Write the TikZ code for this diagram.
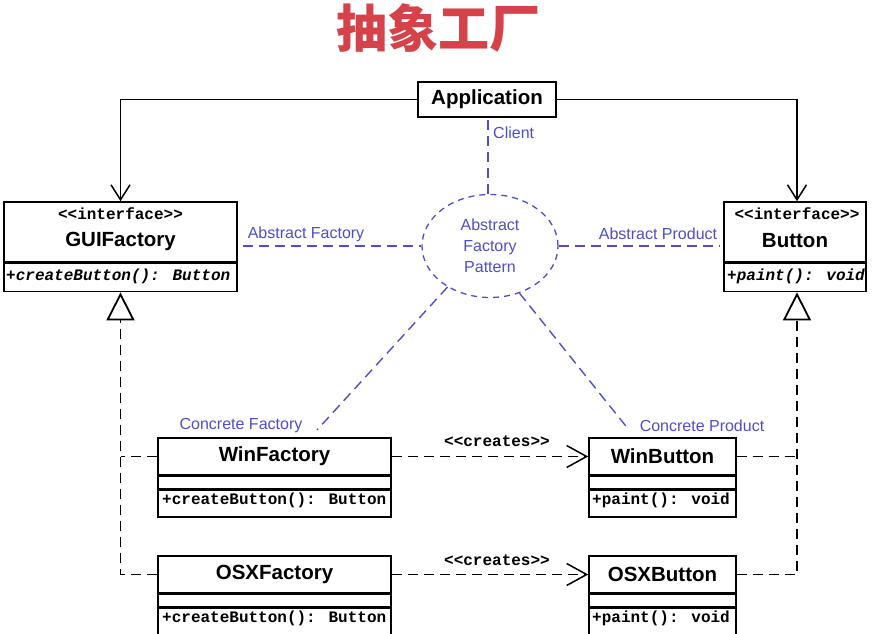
\documentclass[tikz,border=0pt]{standalone}
\usepackage{fontspec}
\setmainfont{Liberation Sans}
\newfontfamily\monof{Liberation Mono}
\newfontfamily\cjk{Noto Sans CJK SC}
\usetikzlibrary{arrows.meta,shapes.geometric}
\definecolor{titlered}{RGB}{214,66,74}
\definecolor{pblue}{RGB}{78,78,200}
\tikzset{
  cls/.style={draw=black, line width=1.6pt, inner sep=0pt, fill=white},
  cname/.style={font=\bfseries\fontsize{20.5}{22}\selectfont, inner sep=0pt},
  stereo/.style={font=\monof\bfseries\fontsize{16}{17}\selectfont, inner sep=0pt},
  meth/.style={font=\monof\bfseries\fontsize{16}{17}\selectfont, inner sep=0pt, anchor=west},
  imeth/.style={font=\monof\bfseries\itshape\fontsize{16}{17}\selectfont, inner sep=0pt, anchor=west},
  blab/.style={text=pblue, font=\fontsize{16}{20}\selectfont, inner sep=0pt},
  bline/.style={draw=pblue, line width=1.4pt, dash pattern=on 10pt off 6pt},
  kdash/.style={draw=black, line width=1.6pt, dash pattern=on 10pt off 6pt},
  assoc/.style={draw=black, line width=1.5pt, -{Straight Barb[length=15pt,width=19pt]}},
  creates/.style={kdash, -{Straight Barb[length=20pt,width=22pt,line width=1.5pt]}},
  realize/.style={kdash, -{Triangle[open,length=28pt,width=28pt,line width=1.8pt]}},
}
\begin{document}
\begin{tikzpicture}[x=1pt,y=-1pt]
\useasboundingbox (0,0) rectangle (875,634);
% title
\node[text=titlered, font=\cjk\bfseries\fontsize{51}{51}\selectfont, inner sep=0pt] (title) at (438,28) {抽象工厂};
% Application
\node[cls, minimum width=138pt, minimum height=35pt, font=\bfseries\fontsize{20.5}{22}\selectfont] (app) at (487,99.5) {Application};
% GUIFactory
\node[cls, minimum width=233pt, minimum height=60pt] (gui) at (120.5,232) {};
\node[cls, minimum width=233pt, minimum height=28pt, anchor=north] (guim) at (gui.south) {};
\node[stereo] (guis) at (120.5,214) {<<interface>>};
\node[cname] (guin) at (120.5,241) {GUIFactory};
\node[imeth] (guimt) at (6,276) {+createButton(): Button};
% Button
\node[cls, minimum width=142pt, minimum height=60pt] (btn) at (795,232) {};
\node[cls, minimum width=142pt, minimum height=28pt, anchor=north] (btnm) at (btn.south) {};
\node[stereo] (btns) at (797,214) {<<interface>>};
\node[cname] (btnn) at (795,241) {Button};
\node[imeth] (btnmt) at (727,276) {+paint(): void};
% WinFactory
\node[cls, minimum width=233pt, minimum height=37pt, font=\bfseries\fontsize{20.5}{22}\selectfont] (winf) at (274.5,456.5) {WinFactory};
\node[cls, minimum width=233pt, minimum height=12pt, anchor=north] (winfa) at (winf.south) {};
\node[cls, minimum width=233pt, minimum height=27pt, anchor=north] (winfm) at (winfa.south) {};
\node[meth] (winfmt) at (162,500.5) {+createButton(): Button};
% OSXFactory
\node[cls, minimum width=233pt, minimum height=37pt, font=\bfseries\fontsize{20.5}{22}\selectfont] (osxf) at (274.5,574.5) {OSXFactory};
\node[cls, minimum width=233pt, minimum height=12pt, anchor=north] (osxfa) at (osxf.south) {};
\node[cls, minimum width=233pt, minimum height=27pt, anchor=north] (osxfm) at (osxfa.south) {};
\node[meth] (osxfmt) at (162,618) {+createButton(): Button};
% WinButton
\node[cls, minimum width=147pt, minimum height=37pt, font=\bfseries\fontsize{20.5}{22}\selectfont] (winb) at (662.5,456.5) {WinButton};
\node[cls, minimum width=147pt, minimum height=12pt, anchor=north] (winba) at (winb.south) {};
\node[cls, minimum width=147pt, minimum height=27pt, anchor=north] (winbm) at (winba.south) {};
\node[meth] (winbmt) at (592,500.5) {+paint(): void};
% OSXButton
\node[cls, minimum width=147pt, minimum height=37pt, font=\bfseries\fontsize{20.5}{22}\selectfont] (osxb) at (662.5,574.5) {OSXButton};
\node[cls, minimum width=147pt, minimum height=12pt, anchor=north] (osxba) at (osxb.south) {};
\node[cls, minimum width=147pt, minimum height=27pt, anchor=north] (osxbm) at (osxba.south) {};
\node[meth] (osxbmt) at (592,618) {+paint(): void};
% Application associations
\draw[assoc] (app.west) -| (gui.north);
\draw[assoc] (app.east) -| ([xshift=2pt]btn.north);
% creates
\draw[creates] (winf.east) -- (winb.west);
\draw[creates] (osxf.east) -- (osxb.west);
\node[stereo] (cr1) at (497,441) {<<creates>>};
\node[stereo] (cr2) at (497,560) {<<creates>>};
% realizations
\draw[realize] (osxf.west) -| (guim.south);
\draw[kdash] (winf.west) -- (guim.south |- winf.west);
\draw[realize] (osxb.east) -| ([xshift=2pt]btnm.south);
\draw[kdash] (winb.east) -- ([xshift=2pt]btnm.south |- winb.east);
% pattern ellipse
\node[ellipse, draw=pblue, line width=1.3pt, dash pattern=on 6pt off 5pt, minimum width=136pt, minimum height=103pt, inner sep=0pt, align=center, text=pblue, font=\fontsize{16}{21}\selectfont] (pat) at (490,246) {\raisebox{-2pt}{\parbox{80pt}{\centering Abstract\\Factory\\Pattern}}};
% blue connectors
\coordinate (clt) at (488,120);
\coordinate (afl) at (243,246);
\coordinate (apr) at (720,246);
\coordinate (cfe) at (317,430);
\coordinate (cpe) at (629,430);
\draw[bline] (clt) -- (clt |- pat.north);
\draw[bline] (afl) -- (pat.west);
\draw[bline] (pat.east) -- (apr);
\draw[bline] (pat.224) -- (cfe);
\draw[bline] (pat.302) -- (cpe);
\node[blab, anchor=west] (lclient) at (493,133) {Client};
\node[blab] (laf) at (306,234) {Abstract Factory};
\node[blab] (lap) at (658,234) {Abstract Product};
\node[blab] (lcf) at (241,426) {Concrete Factory};
\node[blab] (lcp) at (702,426) {Concrete Product};
\end{tikzpicture}
\end{document}
